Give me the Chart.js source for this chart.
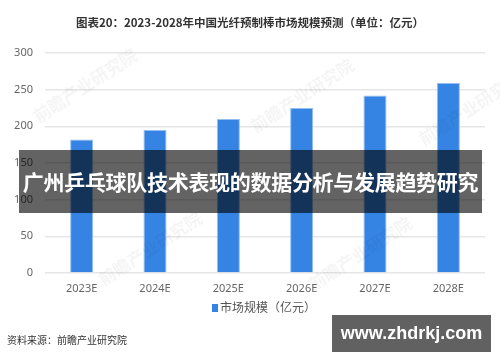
<!DOCTYPE html>
<html>
<head>
<meta charset="utf-8">
<script src="https://cdn.jsdelivr.net/npm/chart.js@4.4.1/dist/chart.umd.min.js"></script>
<style>
  html, body { margin: 0; padding: 0; background: #fff; }
  #wrap { position: relative; width: 500px; height: 362px; overflow: hidden;
    font-family: "Noto Sans CJK SC", "Noto Sans", sans-serif; }
  #chart { position: absolute; left: 0; top: 0; }
  .title { position: absolute; left: 0; width: 500px; top: 13px; text-align: center;
    font-size: 11.5px; font-weight: bold; color: #333; line-height: 18px; }
  .legend { position: absolute; left: 212px; top: 299px; font-size: 12px; color: #555; line-height: 16px; }
  .legend i { display: inline-block; width: 6px; height: 8px; background: #3584e4; margin-right: 2px; }
  .source { position: absolute; left: 7px; top: 332px; font-size: 10px; color: #333; line-height: 16px; }
  .wm { position: absolute; font-size: 17px; font-weight: bold; color: rgba(0,0,0,0.045);
    transform: rotate(-33deg); white-space: nowrap; }
  .banner { position: absolute; left: 19px; top: 150px; width: 463px; height: 63px;
    background: rgba(0,0,0,0.61); color: #fff; font-weight: bold; font-size: 21px;
    text-align: center; line-height: 63px; white-space: nowrap; letter-spacing: -0.3px; }
  .badge { position: absolute; left: 332px; top: 315px; width: 159px; height: 37px;
    background: rgba(0,0,0,0.62); color: #fff; font-family: "Liberation Sans", Arial, sans-serif;
    font-weight: bold; font-size: 18px; text-align: center; line-height: 37px; }
</style>
</head>
<body>
<div id="wrap">
  <canvas id="chart" width="500" height="362"></canvas>
  <div class="wm" style="left:25px;top:72px;">前瞻产业研究院</div>
  <div class="wm" style="left:242px;top:82px;">前瞻产业研究院</div>
  <div class="wm" style="left:410px;top:95px;">前瞻产业研究院</div>
  <div class="wm" style="left:90px;top:235px;">前瞻产业研究院</div>
  <div class="wm" style="left:300px;top:240px;">前瞻产业研究院</div>
  <div class="title">图表20：2023-2028年中国光纤预制棒市场规模预测（单位：亿元）</div>
  <div class="legend"><i></i>市场规模（亿元）</div>
  <div class="source">资料来源：前瞻产业研究院</div>
  <div class="banner">广州乒乓球队技术表现的数据分析与发展趋势研究</div>
  <div class="badge">www.zhdrkj.com</div>
</div>
<script>
const years = ['2023E', '2024E', '2025E', '2026E', '2027E', '2028E'];
const marketSize = [182, 195, 210, 225, 242, 259];
const yTicks = [0, 50, 100, 150, 200, 250, 300];

const ctx = document.getElementById('chart');
new Chart(ctx, {
  type: 'bar',
  data: {
    labels: years,
    datasets: [{
      label: '市场规模（亿元）',
      data: marketSize,
      backgroundColor: '#3584e4',
      borderColor: 'rgba(150, 190, 240, 1)',
      borderWidth: { left: 1, right: 1, top: 1, bottom: 0 },
      categoryPercentage: 1,
      barPercentage: 0.315
    }]
  },
  options: {
    responsive: false,
    animation: false,
    layout: { padding: { left: 0, right: 15, top: 53, bottom: 0 } },
    plugins: {
      legend: { display: false },
      tooltip: { enabled: false }
    },
    scales: {
      x: {
        grid: { display: false, drawTicks: false },
        border: { display: false },
        ticks: {
          color: '#666',
          padding: 9,
          font: { family: 'Noto Sans', size: 11 }
        },
        afterFit: (scale) => { scale.height = 89; }
      },
      y: {
        min: 0,
        max: 300,
        afterBuildTicks: (scale) => { scale.ticks = yTicks.map(v => ({ value: v })); },
        grid: { color: '#e6e6e6', lineWidth: 1.5, drawTicks: false },
        border: { display: false },
        ticks: {
          color: '#666',
          padding: 12,
          font: { family: 'Noto Sans', size: 11 }
        },
        afterFit: (scale) => { scale.width = 45; }
      }
    }
  }
});
</script>
</body>
</html>
